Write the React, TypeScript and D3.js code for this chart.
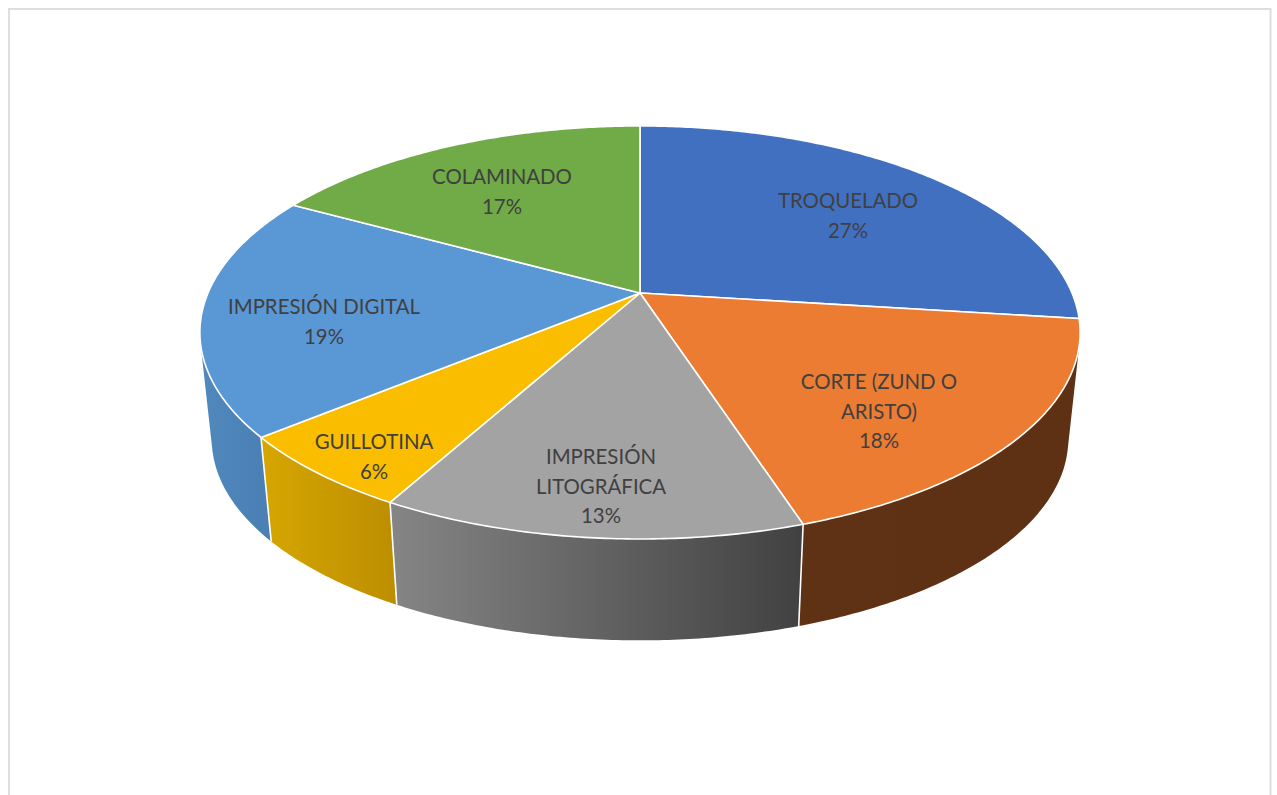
import React from "react";
import * as d3 from "d3";

// Share of production time per process, clockwise from twelve o'clock.
const categories = [
  "TROQUELADO",
  "CORTE (ZUND O ARISTO)",
  "IMPRESIÓN LITOGRÁFICA",
  "GUILLOTINA",
  "IMPRESIÓN DIGITAL",
  "COLAMINADO",
];
const values = [27, 18, 13, 6, 19, 17];

const labelLines = [
  ["TROQUELADO", "27%"],
  ["CORTE (ZUND O", "ARISTO)", "18%"],
  ["IMPRESIÓN", "LITOGRÁFICA", "13%"],
  ["GUILLOTINA", "6%"],
  ["IMPRESIÓN DIGITAL", "19%"],
  ["COLAMINADO", "17%"],
];

const topColors = ["#4270c1", "#eb7c31", "#a3a3a3", "#fbbd00", "#5a98d5", "#70ab47"];
const wallStops = [
  ["#33568f", "#33568f"],
  ["#603214", "#5e3014"],
  ["#858585", "#414141"],
  ["#d6a600", "#bc8e00"],
  ["#5089bd", "#4a7fb4"],
  ["#4f7a32", "#4f7a32"],
];

const labelAnchors: [number, number][] = [
  [848, 200],
  [879, 381],
  [601, 456],
  [374, 441],
  [324, 306],
  [502, 176],
];

const WIDTH = 1277;
const HEIGHT = 795;
const CX = 640;
const TOP_CY = 293;
const BOTTOM_CY = 401;
const RX = 432;
const RY = 199;
const PERSPECTIVE = -0.191;
const BOTTOM_SCALE = 0.973;
const LINE_HEIGHT = 29.5;
const FONT_SIZE = 20.4;

type Pt = [number, number];

// Perspective projection of a point on the unit disc; angle runs clockwise from the back.
function project(angle: number, radius: number, cy: number, scale: number): Pt {
  const x = Math.sin(angle) * radius;
  const y = -Math.cos(angle) * radius;
  const w = 1 + PERSPECTIVE * y;
  return [CX + (scale * RX * x) / w, cy + (scale * RY * y) / w];
}

function rim(start: number, end: number, cy: number, scale: number): Pt[] {
  const steps = Math.max(2, Math.ceil((end - start) / 0.01));
  return d3.range(steps + 1).map((i) => project(start + ((end - start) * i) / steps, 1, cy, scale));
}

const outline = d3.line<Pt>().curve(d3.curveLinear);

// A wall is the sweep of the rim segment down to the lower rim, built as uniformly wound quads
// so the left and right silhouettes follow the tangent between both rims.
function wallPath(top: Pt[], bottom: Pt[]): string {
  return d3
    .range(top.length - 1)
    .map((k) => {
      const quad: Pt[] = [top[k], top[k + 1], bottom[k + 1], bottom[k]];
      if (d3.polygonArea(quad) < 0) quad.reverse();
      return outline(quad) + "Z";
    })
    .join("");
}

export default function App() {
  const arcs = d3
    .pie<number>()
    .sort(null)
    .startAngle(0)
    .endAngle(2 * Math.PI)(values);

  const walls = arcs.map((a, i) => {
    const top = rim(a.startAngle, a.endAngle, TOP_CY, 1);
    const bottom = rim(a.startAngle, a.endAngle, BOTTOM_CY, BOTTOM_SCALE);
    const poly = [...top, ...bottom];
    // Gradient spans only the front-facing part of the wall.
    const visible = poly.filter((p) => p[1] > 340);
    const span = d3.extent(visible.length ? visible : poly, (p) => p[0]) as [number, number];
    return { i, path: wallPath(top, bottom), x0: span[0], x1: span[1] };
  });

  const faces = arcs.map((a) => outline([[CX, TOP_CY], ...rim(a.startAngle, a.endAngle, TOP_CY, 1)]) + "Z");

  // Seams between neighbouring walls, only where they face the viewer.
  const seams = arcs
    .map((a) => a.endAngle)
    .filter((angle) => Math.cos(angle) < -0.3)
    .map((angle) => ({
      a: project(angle, 1, TOP_CY, 1),
      b: project(angle, 1, BOTTOM_CY, BOTTOM_SCALE),
    }));

  return (
    <svg
      width={WIDTH}
      height={HEIGHT}
      viewBox={`0 0 ${WIDTH} ${HEIGHT}`}
      style={{ position: "absolute", left: 0, top: 0, background: "#fff" }}
    >
      <defs>
        {walls.map((w) => (
          <linearGradient
            key={w.i}
            id={`wall-${w.i}`}
            gradientUnits="userSpaceOnUse"
            x1={w.x0}
            x2={w.x1}
            y1={0}
            y2={0}
          >
            <stop offset="0" stopColor={wallStops[w.i][0]} />
            <stop offset="1" stopColor={wallStops[w.i][1]} />
          </linearGradient>
        ))}
      </defs>

      <rect x={9} y={9} width={1261.5} height={800} fill="#fff" stroke="#dedede" strokeWidth={2} />

      <g>
        {walls.map((w) => (
          <path key={w.i} d={w.path} fill={`url(#wall-${w.i})`} />
        ))}
        {seams.map((s, i) => (
          <line key={i} x1={s.a[0]} y1={s.a[1]} x2={s.b[0]} y2={s.b[1]} stroke="#fff" strokeWidth={1.6} />
        ))}
      </g>

      <g>
        {faces.map((d, i) => (
          <path key={categories[i]} d={d} fill={topColors[i]} stroke="#fff" strokeWidth={1.6} strokeLinejoin="round" />
        ))}
      </g>

      <g fontFamily="Lato, 'Open Sans', sans-serif" fontSize={FONT_SIZE} fill="#404040" textAnchor="middle">
        {labelLines.map((lines, i) =>
          lines.map((line, j) => (
            <text
              key={`${i}-${j}`}
              x={labelAnchors[i][0]}
              y={labelAnchors[i][1] + j * LINE_HEIGHT}
              dominantBaseline="central"
            >
              {line}
            </text>
          ))
        )}
      </g>
    </svg>
  );
}
